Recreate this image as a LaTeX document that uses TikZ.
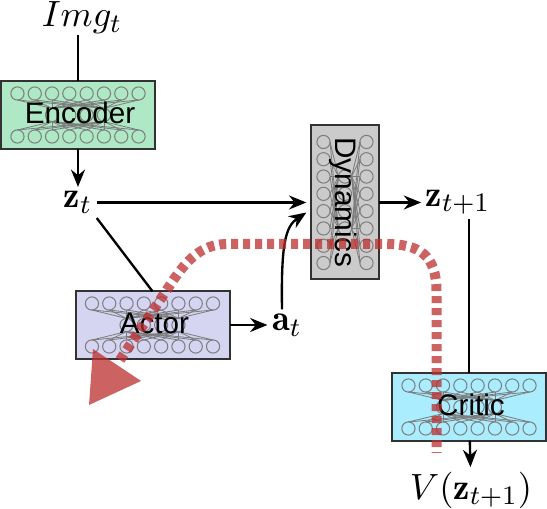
\documentclass[tikz,border=0pt]{standalone}
\usepackage{fontspec}
\usepackage{amsmath}
\usetikzlibrary{arrows.meta,calc}
\newfontfamily\boxfont{Liberation Sans}
\definecolor{encfill}{RGB}{174,232,196}
\definecolor{actfill}{RGB}{213,213,242}
\definecolor{dynfill}{RGB}{203,203,203}
\definecolor{crifill}{RGB}{170,237,255}
\definecolor{edge}{RGB}{50,50,50}
\definecolor{netgray}{RGB}{125,125,125}
\definecolor{grad}{RGB}{188,46,46}
\begin{document}
\begin{tikzpicture}[x=0.3pt,y=-0.3pt,>=Stealth,
  box/.style={draw=edge,line width=0.6pt,inner sep=0pt,outer sep=0pt},
  hbox/.style={box,minimum width=46.2pt,minimum height=20.2pt},
  vbox/.style={box,minimum width=20.2pt,minimum height=46.2pt},
  lbl/.style={font=\boxfont\fontsize{8.9}{10}\selectfont,inner sep=0pt},
  hlbl/.style={lbl,xshift=0.6pt,yshift=0.6pt},
  vlbl/.style={lbl,rotate=-90,yshift=-0.6pt},
  sym/.style={font=\fontsize{11}{13}\selectfont,inner sep=1.2pt},
  line/.style={line width=0.7pt,draw=black},
  arr/.style={line,-{Stealth[length=5.2pt,width=4.2pt]}},
  ring/.style={draw=netgray,line width=0.3pt},
  wire/.style={draw=netgray,line width=0.25pt},
  net/.pic={
    \foreach \i in {-3.5,-2.5,...,3.5}{
      \draw[ring] (\i*17.3,-21.5) circle (6.6);
      \draw[ring] (\i*17.3,21.5) circle (6.6);
      \foreach \m in {-1.5,1.5}{
        \draw[wire] (\i*17.3,-15)--(\m*17.3,-6.6);
        \draw[wire] (\i*17.3,15)--(\m*17.3,6.6);
      }
    }
    \foreach \m in {-1.5,-0.5,0.5,1.5}
      \draw[ring] (\m*17.3,0) circle (6.6);
  }]
\useasboundingbox (0,0) rectangle (547,509);
\node[sym,inner sep=0pt] (img) at (82,18) {$Img_t$};
\node[hbox,fill=encfill] (enc) at (78,115) {};
\node[sym] (zt) at (78,202.5) {$\mathbf{z}_t$};
\node[hbox,fill=actfill] (act) at (152.5,325) {};
\node[sym] (at) at (287,325) {$\mathbf{a}_t$};
\node[vbox,fill=dynfill] (dyn) at (345,202.5) {};
\node[sym] (ztn) at (458,202.5) {$\mathbf{z}_{t+1}$};
\node[hbox,fill=crifill] (cri) at (469,407) {};
\node[sym] (val) at (471,490) {$V(\mathbf{z}_{t+1})$};
\pic at (enc) {net};
\pic at (act) {net};
\pic[rotate=90] at (dyn) {net};
\pic at (cri) {net};
\node[hlbl] (enclbl) at (enc) {Encoder};
\node[hlbl] (actlbl) at (act) {Actor};
\node[vlbl] (dynlbl) at (dyn) {Dynamics};
\node[hlbl] (crilbl) at (cri) {Critic};
\draw[line] (img.south -| enc.north)--(enc.north);
\draw[arr] (enc)--(zt);
\draw[arr,shorten >=1.5pt] (zt)--(dyn);
\draw[line] (zt.south east)--(act.north);
\draw[arr] (act)--(at);
\draw[arr] ($(at.north)+(-5,0)$) .. controls ($(at.north)+(-6,-65)$) and ($(dyn.west)+(-26,24)$) .. ($(dyn.west)+(-5,10)$);
\draw[arr] (dyn)--(ztn);
\draw[line] (ztn.south -| cri.north)--(cri.north);
\draw[arr] (cri)--(val);
\coordinate (tipa) at (93,349);
\coordinate (tipb) at (141,381);
\coordinate (tipc) at (89,405);
\coordinate (gstart) at (120,360);
\coordinate (gend) at (436.5,453);
\fill[grad,opacity=0.75] (tipa)--(tipb)--(tipc)--cycle;
\draw[grad,opacity=0.75,line width=3pt,dash pattern=on 2.1pt off 1.5pt]
  (gstart)--(172,282) .. controls (190,255) and (205,244) .. (228,244)
  --(385,244) .. controls (420,244) and (436.5,255) .. (436.5,292)--(gend);
\end{tikzpicture}
\end{document}
